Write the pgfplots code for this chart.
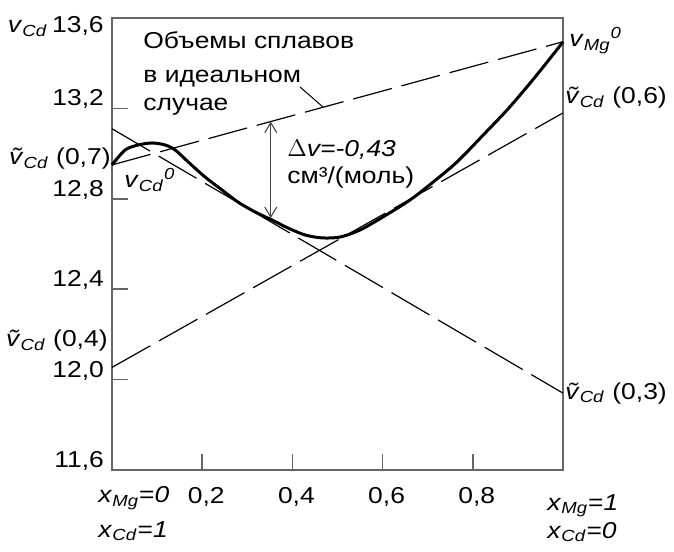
\documentclass[border=0pt]{standalone}
\usepackage{fontspec}
\setmainfont{Liberation Sans}[FakeStretch=1.15]
\usepackage{pgfplots}
\pgfplotsset{compat=1.18}
\usetikzlibrary{arrows.meta}
\newcommand\vCd{\textit{v}\textsubscript{\textit{Cd}}}
\newcommand\tvCd{\textit{\~{v}}\textsubscript{\textit{Cd}}}
\begin{document}
\fontsize{11.5}{13.8}\selectfont
\begin{tikzpicture}
\begin{axis}[
  scale only axis, width=225.5pt, height=226pt,
  xmin=0, xmax=1, ymin=11.6, ymax=13.6,
  clip=false,
  axis line style={line width=0.75pt, color=black!60},
  tick align=inside, tick pos=left,
  major tick length=8pt,
  tick style={line width=0.75pt, color=black!60},
  xtick={0.2,0.4,0.6,0.8}, xticklabels={{0,2},{0,4},{0,6},{0,8}},
  xticklabel style={yshift=-4.75pt, xshift=2pt},
  ytick={11.6,12.0,12.4,12.8,13.2}, yticklabels={{11,6},{12,0},{12,4},{12,8},{13,2}},
  yticklabel style={yshift=4.5pt},
]
% ideal volumes line
\addplot[line width=0.6pt, dash pattern=on 20pt off 5pt] coordinates {(0,12.95) (1,13.495)};
% tangent at x=0.3
\addplot[line width=0.6pt, dash pattern=on 22pt off 5pt] coordinates {(0,13.11) (1,11.94)};
% tangent at x=0.6
\addplot[line width=0.6pt, dash pattern=on 22pt off 5pt] coordinates {(0,12.054) (1,13.18)};
% alloy volume curve
\addplot[line width=1.5pt, smooth, tension=0.5] coordinates {
 (0.000,12.950) (0.029,13.016) (0.058,13.038) (0.089,13.047) (0.118,13.038)
 (0.140,13.016) (0.169,12.963) (0.206,12.897) (0.244,12.839) (0.279,12.786)
 (0.317,12.742) (0.355,12.706) (0.390,12.671) (0.428,12.640) (0.466,12.627)
 (0.506,12.631) (0.550,12.662) (0.601,12.720) (0.661,12.795) (0.712,12.874)
 (0.765,12.963) (0.823,13.082) (0.876,13.193) (0.920,13.295) (0.956,13.383)
 (1.000,13.494)};
% pointer from label to ideal line
\addplot[line width=0.5pt] coordinates {(0.4169,13.2947) (0.4678,13.2062)};
% delta v arrow
\addplot[line width=0.5pt, black!75, {Straight Barb[length=5pt,width=6pt]}-{Straight Barb[length=5pt,width=6pt]}] coordinates {(0.352,12.715) (0.352,13.141)};

\node[anchor=base east, inner sep=0] at (axis cs:-0.0177,13.5337) {13,6};
\node[anchor=base east, inner sep=0] at (axis cs:-0.1419,13.5337) {\vCd};
\node[anchor=base east, inner sep=0] at (axis cs:-0.0022,12.9496) {\tvCd\ (0,7)};
\node[anchor=base east, inner sep=0] at (axis cs:-0.0089,12.1443) {\tvCd\ (0,4)};
\node[anchor=base west, inner sep=0] at (axis cs:0.0266,12.8478) {\vCd\textsuperscript{\textit{0}}};
\node[anchor=base west, inner sep=0] at (axis cs:1.0133,13.4717) {\textit{v}\textsubscript{\textit{Mg}}\textsuperscript{\textit{0}}};
\node[anchor=base west, inner sep=0] at (axis cs:1.0044,13.2195) {\tvCd\ (0,6)};
\node[anchor=base west, inner sep=0] at (axis cs:1.0044,11.914) {\tvCd\ (0,3)};

\node[anchor=base west, inner sep=0] at (axis cs:-0.031,11.454) {\textit{x}\textsubscript{\textit{Mg}}=\textit{0}};
\node[anchor=base west, inner sep=0] at (axis cs:-0.031,11.3035) {\textit{x}\textsubscript{\textit{Cd}}=\textit{1}};
\node[anchor=base west, inner sep=0] at (axis cs:0.9645,11.423) {\textit{x}\textsubscript{\textit{Mg}}=\textit{1}};
\node[anchor=base west, inner sep=0] at (axis cs:0.9645,11.299) {\textit{x}\textsubscript{\textit{Cd}}=\textit{0}};

\node[anchor=base west, inner sep=0] at (axis cs:0.0687,13.4629) {Объемы сплавов};
\node[anchor=base west, inner sep=0] at (axis cs:0.0687,13.3168) {в идеальном};
\node[anchor=base west, inner sep=0] at (axis cs:0.0687,13.1929) {случае};

\node[anchor=base west, inner sep=0] at (axis cs:0.388,12.985) {$\Delta$\textit{v=-0,43}};
\node[anchor=base west, inner sep=0] at (axis cs:0.388,12.8655) {см³/(моль)};

\coordinate (BBsw) at (axis cs:-0.24834,11.24159);
\coordinate (BBne) at (axis cs:1.24612,13.67965);
\end{axis}
\pgfresetboundingbox
\useasboundingbox (BBsw) rectangle (BBne);
\end{tikzpicture}
\end{document}
